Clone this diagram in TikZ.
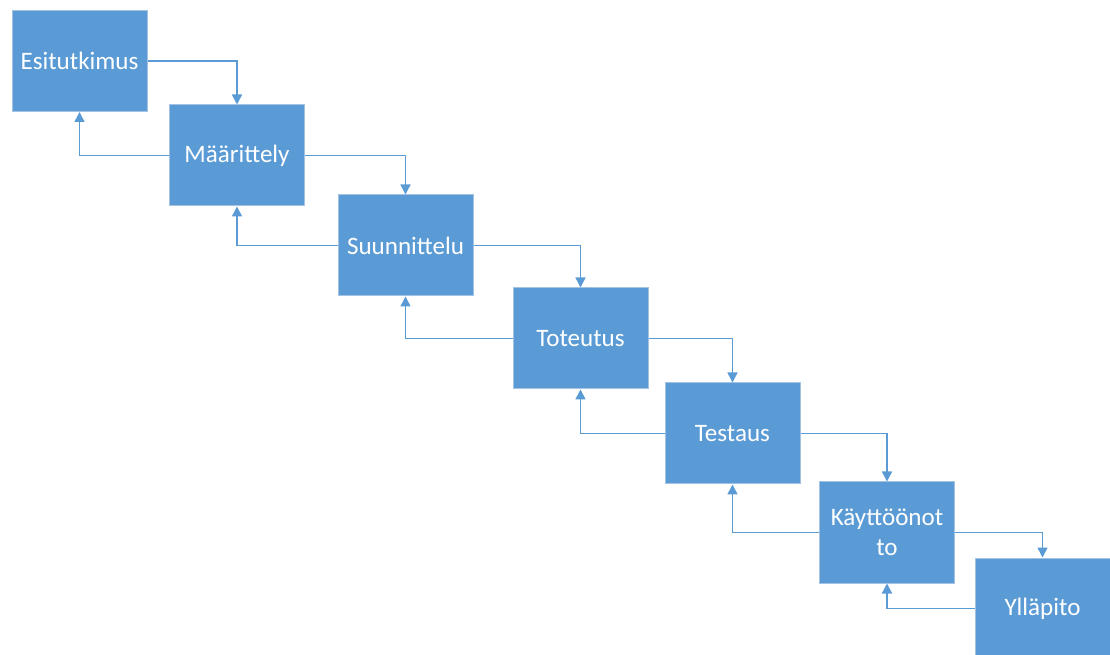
\documentclass[tikz,border=0pt]{standalone}
\usepackage{fontspec}
\setmainfont{Carlito}
\usetikzlibrary{arrows.meta}
\definecolor{boxblue}{HTML}{5B9BD5}
\definecolor{boxedge}{HTML}{A3C2E4}
\definecolor{linkblue}{HTML}{5B9BD5}
\tikzset{
  phase/.style={rectangle, fill=boxblue, draw=boxedge, line width=0.75pt,
    minimum width=101.25pt, minimum height=75.75pt, inner sep=2pt,
    text=white, font=\fontsize{18.8pt}{22.5pt}\selectfont, align=center},
  link/.style={draw=linkblue, line width=1.15pt,
    -{Triangle[length=7.5pt,width=7.5pt]}}
}
\begin{document}
\begin{tikzpicture}[x=0.75pt,y=-0.75pt]
\useasboundingbox (0,0) rectangle (1110,655);
\clip (0,0) rectangle (1110,655);
\node[phase] (a) at (79.5,61) {Esitutkimus};
\node[phase] (b) at (237,155.5) {Määrittely};
\node[phase] (c) at (405.5,245.5) {Suunnittelu};
\node[phase] (d) at (580.5,338.5) {Toteutus};
\node[phase] (e) at (732.5,433.5) {Testaus};
\node[phase] (f) at (887,532.5) {Käyttöönot\\to};
\node[phase] (g) at (1042.5,608.5) {Ylläpito};
\foreach \u/\v in {a/b,b/c,c/d,d/e,e/f,f/g}{
  \draw[link] (\u.east) -| (\v.north);
  \draw[link] (\v.west) -| (\u.south);
}
\end{tikzpicture}
\end{document}
